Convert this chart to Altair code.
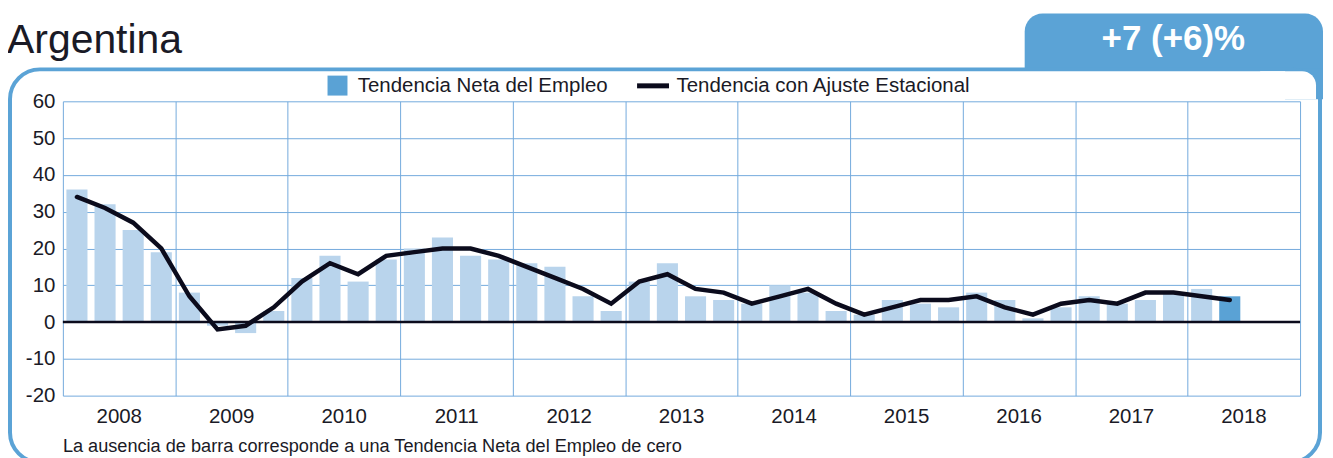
import altair as alt
import pandas as pd

# ---------------- data ----------------
years = [2008, 2009, 2010, 2011, 2012, 2013, 2014, 2015, 2016, 2017, 2018]
# Tendencia Neta del Empleo (quarterly, Q1 2008 .. Q2 2018)
neta = [36, 32, 25, 19,
        8, -1, -3, 3,
        12, 18, 11, 17,
        20, 23, 18, 17,
        16, 15, 7, 3,
        11, 16, 7, 6,
        5, 10, 8, 3,
        2, 6, 5, 4,
        8, 6, 1, 4,
        7, 5, 6, 8,
        9, 7]
# Tendencia con Ajuste Estacional
ajustada = [34, 31, 27, 20,
            7, -2, -1, 4,
            11, 16, 13, 18,
            19, 20, 20, 18,
            15, 12, 9, 5,
            11, 13, 9, 8,
            5, 7, 9, 5,
            2, 4, 6, 6,
            7, 4, 2, 5,
            6, 5, 8, 8,
            7, 6]
y_ticks = [-20, -10, 0, 10, 20, 30, 40, 50, 60]
serie_barras = "Tendencia Neta del Empleo"
serie_linea = "Tendencia con Ajuste Estacional"
titulo = "Argentina"
pronostico = "+7 (+6)%"
nota = "La ausencia de barra corresponde a una Tendencia Neta del Empleo de cero"

# ---------------- styles ----------------
FONT = "Liberation Sans"
LIGHT = "#B9D4EC"
DARK = "#5AA2D5"
FRAME = "#5BA3D6"
GRID = "#74ABDD"
INK = "#0B0B1C"
TEXT = "#1A1A26"

n = len(neta)
df = pd.DataFrame({
    "idx": list(range(n)),
    "neta": neta,
    "ajustada": ajustada,
    "barras": [serie_barras] * n,
    "linea": [serie_linea] * n,
    "ultimo": [i == n - 1 for i in range(n)],
})

n_slots = 4 * len(years)
x_scale = alt.Scale(domain=[0, n_slots], nice=False, zero=False)
y_scale = alt.Scale(domain=[y_ticks[0], y_ticks[-1]], nice=False, zero=False)

x_axis = alt.Axis(
    values=list(range(0, n_slots + 1, 4)),
    labelExpr=f"datum.value < {n_slots} ? '' + ({years[0]} + datum.value / 4) : ''",
    labelOffset=56, labelFlush=False, labelOverlap=False, labelAlign="center",
    labelFont=FONT, labelFontSize=20.5, labelColor=TEXT, labelPadding=11,
    grid=True, gridColor=GRID, gridWidth=1, ticks=False, domain=False, title=None,
)
y_axis = alt.Axis(
    values=y_ticks, labelExpr="'' + datum.value",
    grid=True, gridColor=GRID, gridWidth=1, ticks=False, domain=False,
    labelFont=FONT, labelFontSize=20.5, labelColor=TEXT, labelPadding=8, title=None,
)

one = pd.DataFrame({"k": [0]})

# decorative tab and frame (pixel positions relative to plot origin)
tab = alt.Chart(one).mark_rect(
    color=FRAME, cornerRadiusTopLeft=18, cornerRadiusTopRight=18
).encode(x=alt.value(964), x2=alt.value(1263), y=alt.value(-88), y2=alt.value(-31))

corner = alt.Chart(one).mark_rect(color=FRAME).encode(
    x=alt.value(1225), x2=alt.value(1263), y=alt.value(-33), y2=alt.value(-2))

frame = alt.Chart(one).mark_rect(
    filled=False, stroke=FRAME, strokeWidth=4, cornerRadius=30
).encode(x=alt.value(-53), x2=alt.value(1260), y=alt.value(-32), y2=alt.value(362))

patch = alt.Chart(one).mark_rect(
    color="white", cornerRadiusTopRight=30
).encode(x=alt.value(1200), x2=alt.value(1256), y=alt.value(-30), y2=alt.value(-2))

bars = alt.Chart(df).transform_calculate(
    x0="datum.idx + 0.125", x1="datum.idx + 0.875"
).mark_bar().encode(
    x=alt.X("x0:Q", scale=x_scale, axis=x_axis),
    x2="x1:Q",
    y=alt.Y("neta:Q", scale=y_scale, axis=y_axis),
    y2=alt.datum(0),
    color=alt.condition(
        "!datum.ultimo",
        alt.value(LIGHT),
        alt.Color("barras:N", scale=alt.Scale(domain=[serie_barras], range=[DARK]),
                  legend=alt.Legend(orient="none", legendX=265, legendY=-26, title=None,
                                    symbolType="square", symbolSize=400, symbolStrokeWidth=0,
                                    labelFont=FONT, labelFontSize=20.5, labelColor=TEXT,
                                    labelOffset=10, labelLimit=500, padding=0)),
    ),
)

zero = alt.Chart(one).transform_calculate(z="0").mark_rule(
    color=INK, strokeWidth=2.5
).encode(y=alt.Y("z:Q", scale=y_scale, axis=y_axis))

line = alt.Chart(df).transform_calculate(xm="datum.idx + 0.5").mark_line(
    strokeWidth=4.5, strokeCap="round"
).encode(
    x=alt.X("xm:Q", scale=x_scale, axis=x_axis),
    y=alt.Y("ajustada:Q", scale=y_scale, axis=y_axis),
    stroke=alt.Stroke("linea:N", scale=alt.Scale(domain=[serie_linea], range=[INK]),
                      legend=alt.Legend(orient="none", legendX=573, legendY=-34, title=None,
                                        symbolType="stroke", symbolSize=1024, symbolStrokeWidth=5,
                                        labelFont=FONT, labelFontSize=20.5, labelColor=TEXT,
                                        labelOffset=5, labelLimit=500, padding=0)),
)

title_txt = alt.Chart(pd.DataFrame({"t": [titulo]})).mark_text(
    align="left", baseline="alphabetic", font=FONT, fontSize=41, color=TEXT
).encode(x=alt.value(-56), y=alt.value(-48), text="t:N")

tab_txt = alt.Chart(pd.DataFrame({"t": [pronostico]})).mark_text(
    align="center", baseline="alphabetic", font=FONT, fontSize=35, fontWeight="bold", color="white"
).encode(x=alt.value(1113), y=alt.value(-51), text="t:N")

note_txt = alt.Chart(pd.DataFrame({"t": [nota]})).mark_text(
    align="left", baseline="alphabetic", font=FONT, fontSize=18.2, color=TEXT
).encode(x=alt.value(0), y=alt.value(351), text="t:N")

chart = alt.layer(
    tab, corner, frame, patch, bars, zero, line, title_txt, tab_txt, note_txt
).properties(
    width=1240, height=295,
    autosize=alt.AutoSizeParams(type="none"),
    padding={"left": 55, "top": 93, "right": 25, "bottom": 66},
).configure_view(strokeWidth=0)

chart.save("out.html", embed_options={"renderer": "svg", "actions": False})
